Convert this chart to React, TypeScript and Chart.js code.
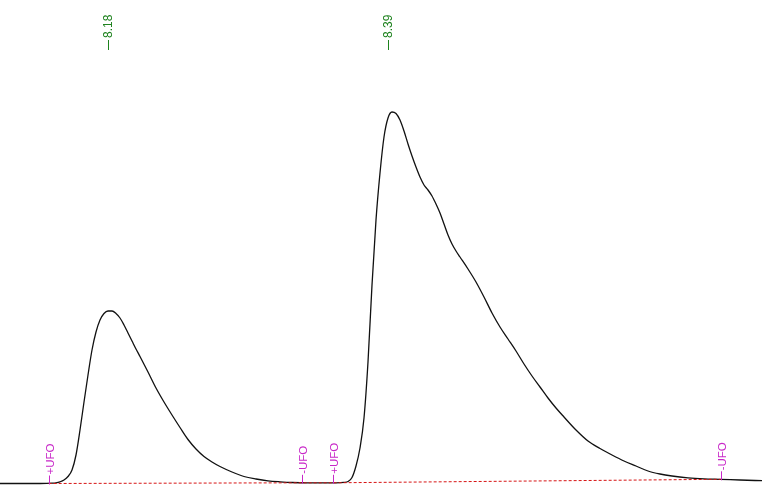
import React, { useEffect, useRef } from "react";
import { Chart, registerables } from "chart.js";

Chart.register(...registerables);

// Retention time (min) and detector signal (mAU)
const times = [
  8.0975, 8.1125, 8.1275, 8.1365, 8.1395, 8.1425, 8.1455, 8.1485, 8.1515, 8.1545,
  8.1575, 8.1605, 8.1635, 8.1665, 8.1695, 8.1725, 8.1755, 8.1785, 8.1815, 8.1845,
  8.1875, 8.1905, 8.1935, 8.1965, 8.1995, 8.2025, 8.2085, 8.2145, 8.2205, 8.2265,
  8.2325, 8.2385, 8.2445, 8.2505, 8.2565, 8.2625, 8.2715, 8.2805, 8.2895, 8.2985,
  8.3075, 8.3165, 8.3285, 8.3405, 8.3495, 8.3555, 8.3585, 8.3615, 8.3645, 8.3675,
  8.3705, 8.3735, 8.3765, 8.3795, 8.3825, 8.3855, 8.3885, 8.3915, 8.3945, 8.3975,
  8.4005, 8.4035, 8.4065, 8.4095, 8.4125, 8.4155, 8.4185, 8.4215, 8.4245, 8.4275,
  8.4305, 8.4335, 8.4365, 8.4395, 8.4425, 8.4485, 8.4545, 8.4605, 8.4665, 8.4725,
  8.4785, 8.4845, 8.4905, 8.4965, 8.5025, 8.5085, 8.5145, 8.5205, 8.5295, 8.5385,
  8.5475, 8.5565, 8.5655, 8.5745, 8.5835, 8.5925, 8.6015, 8.6135, 8.6255, 8.6375,
  8.6525, 8.669,
];
const signal = [
  0.15, 0.15, 0.15, 0.18, 0.22, 0.32, 0.5, 0.85, 1.5, 3.0,
  5.5, 8.3, 11.0, 13.5, 15.3, 16.5, 17.15, 17.4, 17.4, 17.15,
  16.7, 16.0, 15.2, 14.4, 13.6, 12.85, 11.3, 9.7, 8.3, 7.0,
  5.75, 4.55, 3.6, 2.85, 2.3, 1.85, 1.3, 0.85, 0.6, 0.42,
  0.32, 0.25, 0.22, 0.22, 0.22, 0.26, 0.35, 0.75, 1.9, 3.7,
  6.7, 12.3, 20.0, 26.5, 31.2, 34.8, 36.7, 37.3, 37.15, 36.5,
  35.4, 34.1, 32.9, 31.8, 30.8, 30.0, 29.5, 28.9, 28.1, 27.2,
  26.1, 25.0, 24.1, 23.4, 22.8, 21.6, 20.3, 18.8, 17.2, 15.8,
  14.6, 13.4, 12.1, 10.9, 9.8, 8.7, 7.7, 6.8, 5.5, 4.4,
  3.65, 3.0, 2.4, 1.9, 1.4, 1.1, 0.9, 0.72, 0.62, 0.57,
  0.5, 0.43,
];

// Peak apex retention times
const peakTimes = [8.18, 8.39];
const peakLabels = ["8.18", "8.39"];

// Integration markers and baseline
const markerTimes = [8.134, 8.324, 8.347, 8.638];
const markerLabels = ["+UFO", "-UFO", "+UFO", "-UFO"];
const baselineValues = [0.15, 0.22, 0.22, 0.57];

const xMin = 8.0975;
const xMax = 8.669;
const yMin = 0;
const yMax = 48.5;

const annotationPlugin = {
  id: "chromAnnotations",
  afterDatasetsDraw(chart: any) {
    const ctx = chart.ctx as CanvasRenderingContext2D;
    const xs = chart.scales.x;
    const ys = chart.scales.y;
    ctx.save();
    // peak labels
    ctx.fillStyle = "rgb(30,130,30)";
    ctx.strokeStyle = "rgb(30,130,30)";
    ctx.font = "12px 'Liberation Sans', Arial, sans-serif";
    ctx.textBaseline = "middle";
    ctx.textAlign = "left";
    peakTimes.forEach((t, i) => {
      const px = Math.round(xs.getPixelForValue(t)) - 1.5;
      ctx.lineWidth = 1;
      ctx.beginPath();
      ctx.moveTo(px, 50);
      ctx.lineTo(px, 40);
      ctx.stroke();
      ctx.save();
      ctx.translate(px, 38);
      ctx.rotate(-Math.PI / 2);
      ctx.fillText(peakLabels[i], 0, 0);
      ctx.restore();
    });
    // integration markers
    ctx.fillStyle = "rgb(200,40,200)";
    ctx.strokeStyle = "rgb(200,40,200)";
    ctx.font = "11.5px 'Liberation Sans', Arial, sans-serif";
    markerTimes.forEach((t, i) => {
      const px = Math.round(xs.getPixelForValue(t)) + 0.5;
      const by = ys.getPixelForValue(baselineValues[i]);
      ctx.lineWidth = 1;
      ctx.beginPath();
      ctx.moveTo(px, by + 1);
      ctx.lineTo(px, by - 8);
      ctx.stroke();
      ctx.save();
      ctx.translate(px + 1, by - 9);
      ctx.rotate(-Math.PI / 2);
      ctx.fillText(markerLabels[i], 0, 0);
      ctx.restore();
    });
    ctx.restore();
  },
};

export default function App() {
  const canvasRef = useRef<HTMLCanvasElement | null>(null);

  useEffect(() => {
    if (!canvasRef.current) return;
    const trace = times.map((t, i) => ({ x: t, y: signal[i] }));
    const baseline = markerTimes.map((t, i) => ({ x: t, y: baselineValues[i] }));
    const chart = new Chart(canvasRef.current, {
      type: "line",
      data: {
        datasets: [
          {
            data: baseline,
            borderColor: "rgb(215,20,20)",
            borderWidth: 1,
            borderDash: [3, 2],
            pointRadius: 0,
            tension: 0,
            clip: false as any,
          },
          {
            data: trace,
            borderColor: "#111111",
            borderWidth: 1.3,
            pointRadius: 0,
            cubicInterpolationMode: "monotone",
            clip: false as any,
          },
        ],
      },
      options: {
        animation: false,
        responsive: false,
        devicePixelRatio: 1,
        layout: { padding: 0 },
        plugins: {
          legend: { display: false },
          tooltip: { enabled: false },
          title: { display: false },
        },
        scales: {
          x: { type: "linear", min: xMin, max: xMax, display: false },
          y: { type: "linear", min: yMin, max: yMax, display: false },
        },
      },
      plugins: [annotationPlugin],
    });
    return () => chart.destroy();
  }, []);

  return (
    <div style={{ position: "fixed", left: 0, top: 0, width: 762, height: 485, background: "#fff" }}>
      <canvas ref={canvasRef} width={762} height={485} />
    </div>
  );
}
